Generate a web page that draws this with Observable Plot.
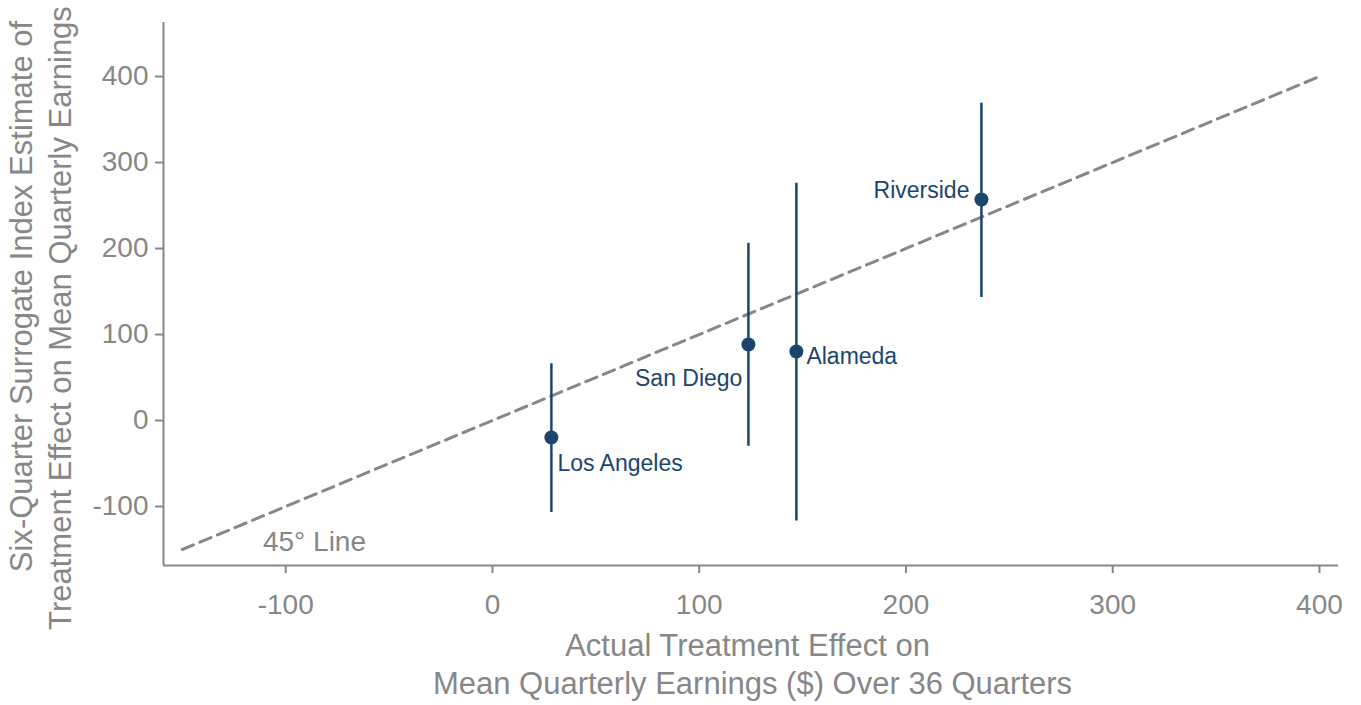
<!DOCTYPE html>
<html>
<head>
<meta charset="utf-8">
<script src="https://cdn.jsdelivr.net/npm/d3@7"></script>
<script src="https://cdn.jsdelivr.net/npm/@observablehq/plot@0.6"></script>
<style>
  html, body { margin: 0; padding: 0; background: #fff; }
  #chart { width: 1361px; height: 705px; }
  svg { font-family: "Liberation Sans", Arial, sans-serif; }
</style>
</head>
<body>
<div id="chart"></div>
<script>
const counties = ["Los Angeles", "San Diego", "Alameda", "Riverside"];
const actual = [28.5, 123.8, 147.0, 236.5];
const estimate = [-19.8, 88.4, 80.2, 257];
const ciLow = [-107, -30, -117, 143];
const ciHigh = [66, 206, 276, 369];
const xTicks = [-100, 0, 100, 200, 300, 400];
const yTicks = [-100, 0, 100, 200, 300, 400];
const diagonal = [-150, 400];
const xDomain = [-159.1, 409.2];
const yDomain = [-168.6, 462.8];
const xTitle = ["Actual Treatment Effect on", "Mean Quarterly Earnings ($) Over 36 Quarters"];
const yTitle = ["Six-Quarter Surrogate Index Estimate of", "Treatment Effect on Mean Quarterly Earnings"];
const lineNote = "45° Line";

const data = counties.map((name, i) => ({
  name, x: actual[i], y: estimate[i], lo: ciLow[i], hi: ciHigh[i]
}));
const diagPts = diagonal.map(v => ({x: v, y: v}));

const gray = "#878787";
const navy = "#1b456f";
const font = "Liberation Sans, Arial, sans-serif";

const labelMark = (name, opts) => Plot.text(data.filter(d => d.name === name), {
  x: "x", y: "y", text: "name", fill: navy, fontSize: 23, ...opts
});

const chart = Plot.plot({
  width: 1361,
  height: 705,
  marginLeft: 163,
  marginRight: 23,
  marginTop: 22,
  marginBottom: 140,
  style: {fontFamily: font, background: "#fff"},
  x: {domain: xDomain},
  y: {domain: yDomain},
  marks: [
    Plot.line(diagPts, {x: "x", y: "y", stroke: gray, strokeWidth: 3, strokeDasharray: "12,7"}),
    Plot.ruleX(data, {x: "x", y1: "lo", y2: "hi", stroke: navy, strokeWidth: 2.5}),
    Plot.dot(data, {x: "x", y: "y", r: 7, fill: navy, stroke: "none"}),
    labelMark("Los Angeles", {textAnchor: "start", dx: 6, dy: 26}),
    labelMark("San Diego", {textAnchor: "end", dx: -6, dy: 34}),
    labelMark("Alameda", {textAnchor: "start", dx: 10, dy: 5}),
    labelMark("Riverside", {textAnchor: "end", dx: -12, dy: -9}),
    Plot.text([lineNote], {x: -111, y: -141, textAnchor: "start", fill: gray, fontSize: 28}),
    Plot.ruleX([xDomain[0]], {stroke: gray, strokeWidth: 2}),
    Plot.ruleY([yDomain[0]], {stroke: gray, strokeWidth: 2}),
    Plot.axisX({ticks: xTicks, tickSize: 8, tickPadding: 21, fontSize: 28, color: gray, strokeWidth: 2, label: null, tickFormat: d => String(d)}),
    Plot.axisY({ticks: yTicks, tickSize: 8, tickPadding: 7, fontSize: 28, color: gray, strokeWidth: 2, label: null, tickFormat: d => String(d)}),
    Plot.text([xTitle[0]], {frameAnchor: "bottom", lineAnchor: "bottom", dx: -3.5, dy: 90, fontSize: 31, fill: gray}),
    Plot.text([xTitle[1]], {frameAnchor: "bottom", lineAnchor: "bottom", dx: 1.5, dy: 128, fontSize: 31, fill: gray}),
    Plot.text([yTitle[0]], {frameAnchor: "left", textAnchor: "middle", rotate: -90, dx: -141, dy: 2.5, fontSize: 31, fill: gray}),
    Plot.text([yTitle[1]], {frameAnchor: "left", textAnchor: "middle", rotate: -90, dx: -102, dy: 24, fontSize: 31, fill: gray})
  ]
});
document.getElementById("chart").append(chart);
</script>
</body>
</html>
